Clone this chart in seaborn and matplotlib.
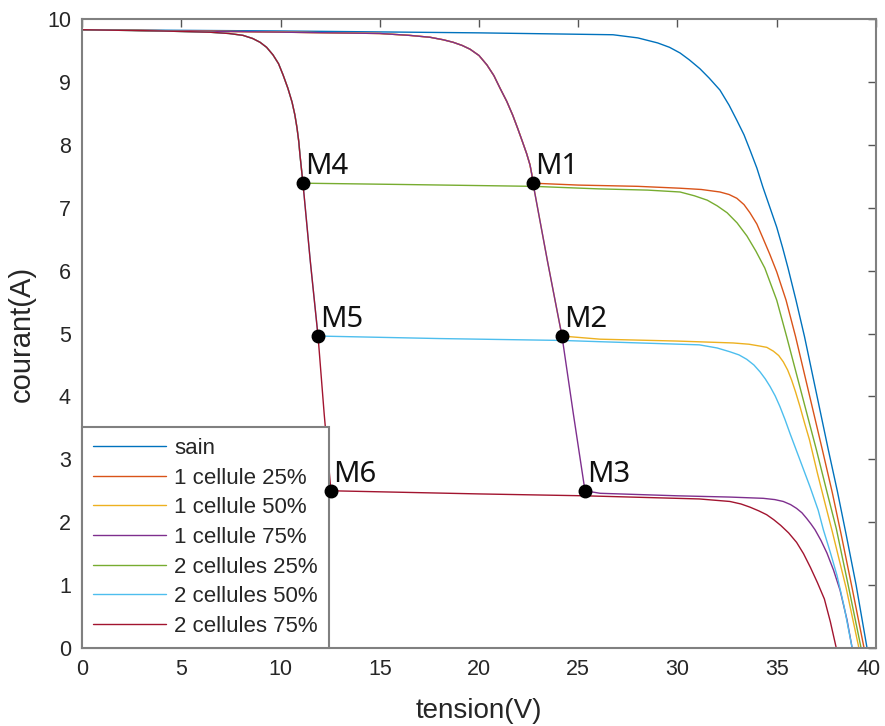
import pandas as pd
import seaborn as sns
import matplotlib
matplotlib.use('Agg')
import matplotlib.pyplot as plt
from matplotlib.transforms import ScaledTranslation

# courbes I-V : tension (V), courant (A)
sain_v = [0, 10, 20, 26.75, 28, 29, 29.6, 30.13, 30.6, 31.13, 31.6, 32.14, 32.6, 32.99, 33.35,
          33.65, 34.0, 34.3, 34.65, 35.0, 35.3, 35.57, 35.97, 36.4, 36.8, 37.2, 37.6, 38.05,
          38.5, 39.0, 39.55]
sain_i = [9.83, 9.81, 9.78, 9.75, 9.70, 9.62, 9.55, 9.46, 9.35, 9.21, 9.06, 8.87, 8.63, 8.39, 8.16,
          7.92, 7.63, 7.33, 7.01, 6.69, 6.36, 6.04, 5.53, 4.95, 4.35, 3.75, 3.15, 2.50,
          1.80, 1.00, 0.0]

# partie commune "1 cellule" (decrochage vers 20 V)
haut1_v = [0, 8, 15, 16.5, 17.53, 18.2, 18.7, 19.15, 19.55, 20.0, 20.4, 20.75, 21.06, 21.4,
           21.7, 21.95, 22.2, 22.4, 22.57, 22.66]
haut1_i = [9.83, 9.80, 9.77, 9.74, 9.71, 9.67, 9.63, 9.58, 9.52, 9.42, 9.27, 9.10, 8.90, 8.69,
           8.47, 8.26, 8.04, 7.86, 7.68, 7.53]
# partie commune "2 cellules" (decrochage vers 10 V)
haut2_v = [0, 4, 6.45, 7.4, 8.11, 8.6, 8.97, 9.3, 9.62, 9.9, 10.13, 10.37, 10.58, 10.72, 10.83,
           10.92, 10.98, 11.06]
haut2_i = [9.83, 9.81, 9.79, 9.77, 9.74, 9.69, 9.63, 9.55, 9.43, 9.29, 9.11, 8.90, 8.68, 8.48, 8.27,
           8.05, 7.84, 7.60]

c1_25_v = haut1_v + [22.72, 25, 28, 30.13, 31.2, 32.14, 32.6, 32.99, 33.35, 33.65, 34.0, 34.3,
                     34.65, 35.0, 35.47, 35.95, 36.4, 36.85, 37.3, 37.8, 38.25, 38.8, 39.4]
c1_25_i = haut1_i + [7.39, 7.36, 7.34, 7.31, 7.29, 7.25, 7.21, 7.15, 7.05, 6.92, 6.74, 6.52,
                     6.26, 5.98, 5.53, 4.95, 4.35, 3.75, 3.15, 2.47, 1.80, 0.95, 0.0]

c1_50_v = haut1_v + [22.72, 23.45, 24.18, 26.1, 30, 32.8, 33.6, 34.16, 34.5, 34.83, 35.1, 35.33,
                     35.55, 35.75, 35.95, 36.17, 36.4, 36.65, 37.05, 37.45, 37.8, 38.5, 39.14]
c1_50_i = haut1_i + [7.39, 6.15, 4.96, 4.91, 4.88, 4.85, 4.83, 4.80, 4.78, 4.72, 4.65, 4.55,
                     4.42, 4.26, 4.07, 3.84, 3.58, 3.31, 2.78, 2.28, 1.85, 0.95, 0.0]

c1_75_v = haut1_v + [22.72, 23.45, 24.18, 24.75, 25.34, 26.1, 30, 32.64, 34.32, 34.9, 35.33, 35.7,
                     36.0, 36.27, 36.51, 36.73, 36.93, 37.23, 37.53, 37.86, 38.19, 38.54, 38.8]
c1_75_i = haut1_i + [7.39, 6.15, 4.96, 3.73, 2.50, 2.46, 2.42, 2.40, 2.38, 2.36, 2.33, 2.28,
                     2.22, 2.15, 2.06, 1.97, 1.88, 1.71, 1.51, 1.24, 0.92, 0.45, 0.0]

c2_25_v = haut2_v + [11.13, 16, 22.72, 26, 28.5, 30.13, 30.85, 31.5, 32.0, 32.5, 33.0, 33.5, 33.95,
                     34.4, 35.0, 35.5, 36.0, 36.5, 37.0, 37.5, 38.0, 38.6, 39.25]
c2_25_i = haut2_i + [7.39, 7.37, 7.34, 7.30, 7.28, 7.25, 7.19, 7.12, 7.03, 6.92, 6.76, 6.55, 6.31,
                     6.04, 5.53, 4.95, 4.35, 3.75, 3.15, 2.52, 1.90, 1.00, 0.0]

c2_50_v = haut2_v + [11.13, 11.5, 11.89, 18, 24.18, 26.1, 31.1, 32.0, 32.64, 33.1, 33.49, 33.85,
                     34.16, 34.42, 34.66, 34.92, 35.16, 35.42, 35.67, 36.17, 36.68, 37.09, 37.35,
                     37.7, 38.04, 38.4, 38.8]
c2_50_i = haut2_i + [7.39, 6.15, 4.96, 4.92, 4.89, 4.87, 4.82, 4.77, 4.71, 4.66, 4.59, 4.50,
                     4.39, 4.28, 4.16, 4.01, 3.84, 3.63, 3.41, 2.99, 2.56, 2.19, 1.88,
                     1.52, 1.15, 0.65, 0.0]

c2_75_v = haut2_v + [11.13, 11.5, 11.89, 12.2, 12.54, 20, 25.34, 31.1, 32.64, 33.2, 33.65, 34.1,
                     34.49, 34.85, 35.2, 35.6, 36.0, 36.35, 36.7, 37.05, 37.4, 37.7, 38.0]
c2_75_i = haut2_i + [7.39, 6.15, 4.96, 3.72, 2.50, 2.45, 2.42, 2.37, 2.33, 2.29, 2.24, 2.18,
                     2.12, 2.04, 1.95, 1.83, 1.68, 1.50, 1.28, 1.04, 0.78, 0.42, 0.0]

series = ['sain', '1 cellule 25%', '1 cellule 50%', '1 cellule 75%',
          '2 cellules 25%', '2 cellules 50%', '2 cellules 75%']
couleurs = ['#0072BD', '#D95319', '#EDB120', '#7E2F8E', '#77AC30', '#4DBEEE', '#A2142F']
courbes = [(sain_v, sain_i), (c1_25_v, c1_25_i), (c1_50_v, c1_50_i), (c1_75_v, c1_75_i),
           (c2_25_v, c2_25_i), (c2_50_v, c2_50_i), (c2_75_v, c2_75_i)]

# points de fonctionnement
pts_nom = ['M1', 'M2', 'M3', 'M4', 'M5', 'M6']
pts_v = [22.72, 24.18, 25.34, 11.13, 11.89, 12.54]
pts_i = [7.39, 4.96, 2.50, 7.39, 4.96, 2.50]

df = pd.concat([
    pd.DataFrame({'tension': v, 'courant': i, 'serie': nom})
    for nom, (v, i) in zip(series, courbes)
])

sns.set_style('white')
plt.rcParams['font.family'] = ['Liberation Sans', 'DejaVu Sans']

fig, ax = plt.subplots(figsize=(8.85, 7.26), dpi=100)
fig.subplots_adjust(left=0.0927, right=0.9898, bottom=0.1074, top=0.9738)

sns.lineplot(data=df, x='tension', y='courant', hue='serie', hue_order=series,
             palette=dict(zip(series, couleurs)), sort=False, estimator=None,
             linewidth=1.0, ax=ax)

ax.plot(pts_v, pts_i, 'o', color='black', markersize=9, zorder=10)
for nom, v, i in zip(pts_nom, pts_v, pts_i):
    ax.annotate(nom, (v, i), xytext=(1.5, 6.5), textcoords='offset points',
                ha='left', va='baseline', fontsize=21, family='Noto Sans', color='#111111',
                zorder=11)

ax.set_xlim(0, 40)
ax.set_ylim(0, 10)
ax.set_xticks(range(0, 41, 5))
ax.set_yticks(range(0, 11, 1))
ax.tick_params(direction='in', length=6, width=1, color='#555555', top=True, right=True,
               labelsize=15.5, labelcolor='#262626', pad=8)
for sp in ax.spines.values():
    sp.set_color('#808080')
    sp.set_linewidth(1.5)

# le "40" touche le bord droit : on le decale un peu vers la gauche
fig.canvas.draw()
dernier = ax.get_xticklabels()[-1]
dernier.set_transform(dernier.get_transform() + ScaledTranslation(-5 / 72, 0, fig.dpi_scale_trans))

ax.set_xlabel('tension(V)', fontsize=20, color='#262626', labelpad=13)
ax.set_ylabel('courant(A)', fontsize=21, color='#262626', labelpad=8)

handles, labels = ax.get_legend_handles_labels()
leg = ax.legend(handles, labels, loc='lower left', bbox_to_anchor=(0, 0), borderaxespad=0,
                fontsize=16, handlelength=3.3, handletextpad=0.35, labelspacing=0.39,
                borderpad=0.5, fancybox=False, framealpha=1, edgecolor='#808080')
leg.get_frame().set_linewidth(1.5)

fig.savefig('out.png', dpi=100)
plt.close(fig)
